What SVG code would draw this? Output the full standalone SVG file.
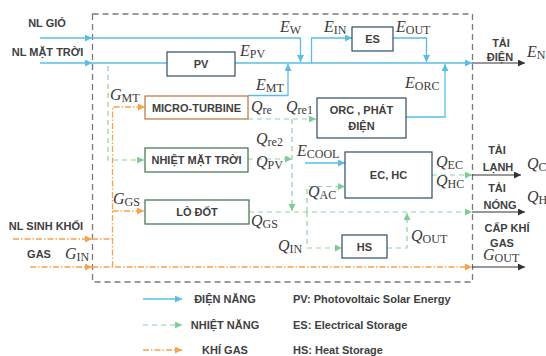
<svg xmlns="http://www.w3.org/2000/svg" width="546" height="356" viewBox="0 0 546 356">
<defs>
<style>
.t{font-family:"Liberation Sans",Arial,sans-serif;font-weight:bold;font-size:11px;fill:#404040;text-anchor:middle}
.tl{font-family:"Liberation Sans",Arial,sans-serif;font-weight:bold;font-size:11px;fill:#404040}
.m{font-family:"Liberation Serif","Times New Roman",serif;font-style:italic;font-size:16px;fill:#3a3a3a}
.s{font-style:normal;font-size:12px}
.box{fill:#fff;stroke:#2f4d66;stroke-width:1.2}
.gbox{fill:#fff;stroke:#3d6e4c;stroke-width:1.2}
.obox{fill:#fff;stroke:#b87440;stroke-width:1.2}
.e{fill:none;stroke:#5bbde6;stroke-width:1.3}
.h{fill:none;stroke:#8fd3a2;stroke-width:1.2;stroke-dasharray:5 4}
.g{fill:none;stroke:#f5a34c;stroke-width:1.3;stroke-dasharray:6 2 1.5 2}
.k{fill:none;stroke:#333;stroke-width:1.2}
</style>
<marker id="ab" viewBox="0 0 8 8" refX="8" refY="4" markerWidth="7" markerHeight="7" markerUnits="userSpaceOnUse" orient="auto"><path d="M0,0 L8,4 L0,8 Z" fill="#5bbde6"/></marker>
<marker id="ag" viewBox="0 0 8 8" refX="8" refY="4" markerWidth="7" markerHeight="7" markerUnits="userSpaceOnUse" orient="auto"><path d="M0,0 L8,4 L0,8 Z" fill="#7fcc95"/></marker>
<marker id="ao" viewBox="0 0 8 8" refX="8" refY="4" markerWidth="7" markerHeight="7" markerUnits="userSpaceOnUse" orient="auto"><path d="M0,0 L8,4 L0,8 Z" fill="#f5a34c"/></marker>
<marker id="ak" viewBox="0 0 8 8" refX="8" refY="4" markerWidth="7" markerHeight="7" markerUnits="userSpaceOnUse" orient="auto"><path d="M0,0 L8,4 L0,8 Z" fill="#333"/></marker>
</defs>
<rect width="546" height="356" fill="#fff"/>
<rect x="92.5" y="14" width="380" height="268" fill="none" stroke="#7a7a7a" stroke-width="1.3" stroke-dasharray="6 4"/>

<g id="connectors">
<path class="e" d="M40,38 H92" marker-end="url(#ab)"/>
<path class="e" d="M92,38 H300.5 V62" marker-end="url(#ab)"/>
<path class="e" d="M40,63 H92" marker-end="url(#ab)"/>
<path class="e" d="M92,63 H167"/>
<path class="e" d="M235,63 H472" marker-end="url(#ab)"/>
<path class="e" d="M311.5,63 V38 H352" marker-end="url(#ab)"/>
<path class="e" d="M393,38 H426.5 V62" marker-end="url(#ab)"/>
<path class="e" d="M406,117 H445 V64" marker-end="url(#ab)"/>
<path class="e" d="M248,95.5 H288 V64" marker-end="url(#ab)"/>
<path class="e" d="M305,163 H345" marker-end="url(#ab)"/>
<path class="h" d="M108,66 V160 H144" marker-end="url(#ag)"/>
<path class="h" d="M248,119 H316" marker-end="url(#ag)"/>
<path class="h" d="M292,119 V211" marker-end="url(#ag)"/>
<path class="h" d="M248,159 H292" marker-end="url(#ag)"/>
<path class="h" d="M249,212 H472" marker-end="url(#ag)"/>
<path class="h" d="M307,212 V186.5 H345" marker-end="url(#ag)"/>
<path class="h" d="M307,212 V248 H342" marker-end="url(#ag)"/>
<path class="h" d="M387,248 H407 V213" marker-end="url(#ag)"/>
<path class="h" d="M432,175 H472" marker-end="url(#ag)"/>
<path class="g" d="M13,239 H92" marker-end="url(#ao)"/>
<path class="g" d="M92,239 H112.5"/>
<path class="g" d="M30,267 H92" marker-end="url(#ao)"/>
<path class="g" d="M92,267 H472" marker-end="url(#ao)"/>
<path class="g" d="M112.5,267 V107 H145" marker-end="url(#ao)"/>
<path class="g" d="M112.5,211 H144" marker-end="url(#ao)"/>
<path class="k" d="M472,63 H525" marker-end="url(#ak)"/>
<path class="k" d="M472,175 H521" marker-end="url(#ak)"/>
<path class="k" d="M472,212 H525" marker-end="url(#ak)"/>
<path class="k" d="M472,267 H525" marker-end="url(#ak)"/>
</g>

<g id="pv"><rect class="box" x="167" y="52" width="68" height="24"/><text class="t" x="201" y="68">PV</text></g>
<g id="es"><rect class="box" x="352" y="27" width="41" height="24"/><text class="t" x="372.5" y="43">ES</text></g>
<g id="micro-turbine"><rect class="obox" x="145" y="96" width="103" height="23"/><text class="t" x="196.5" y="111.5">MICRO-TURBINE</text></g>
<g id="nhiet-mat-troi"><rect class="gbox" x="145" y="148" width="103" height="24"/><text class="t" x="196.5" y="164">NHIỆT MẶT TRỜI</text></g>
<g id="lo-dot"><rect class="gbox" x="145" y="200" width="104" height="24"/><text class="t" x="197" y="216">LÒ ĐỐT</text></g>
<g id="orc"><rect class="box" x="317" y="98" width="89" height="40"/><text class="t" x="361.5" y="114">ORC , PHÁT</text><text class="t" x="361.5" y="130">ĐIỆN</text></g>
<g id="ec-hc"><rect class="box" x="345" y="152" width="87" height="46"/><text class="t" x="388.5" y="179">EC, HC</text></g>
<g id="hs"><rect class="box" x="342" y="235" width="45" height="23"/><text class="t" x="364.5" y="250.5">HS</text></g>

<g id="inputs">
<text class="t" x="47" y="27">NL GIÓ</text>
<text class="t" x="47.5" y="56">NL MẶT TRỜI</text>
<text class="t" x="46" y="230">NL SINH KHỐI</text>
<text class="t" x="39" y="258">GAS</text>
</g>
<g id="outputs">
<text class="t" x="501" y="47">TẢI</text>
<text class="t" x="500" y="61">ĐIỆN</text>
<text class="t" x="497" y="154">TẢI</text>
<text class="t" x="498" y="171">LẠNH</text>
<text class="t" x="497" y="192">TẢI</text>
<text class="t" x="500" y="209">NÓNG</text>
<text class="t" x="507" y="232">CẤP KHÍ</text>
<text class="t" x="502" y="247">GAS</text>
</g>

<g id="labels">
<text class="m" x="240" y="56">E<tspan class="s" dy="2">PV</tspan></text>
<text class="m" x="280" y="32">E<tspan class="s" dy="2">W</tspan></text>
<text class="m" x="324" y="32">E<tspan class="s" dy="2">IN</tspan></text>
<text class="m" x="396" y="32">E<tspan class="s" dy="2">OUT</tspan></text>
<text class="m" x="527" y="57">E<tspan class="s" dy="2">N</tspan></text>
<text class="m" x="405" y="88">E<tspan class="s" dy="2">ORC</tspan></text>
<text class="m" x="256" y="90">E<tspan class="s" dy="2">MT</tspan></text>
<text class="m" x="110" y="100">G<tspan class="s" dy="2">MT</tspan></text>
<text class="m" x="251" y="112">Q<tspan class="s" dy="2">re</tspan></text>
<text class="m" x="286" y="112">Q<tspan class="s" dy="2">re1</tspan></text>
<text class="m" x="256" y="144">Q<tspan class="s" dy="2">re2</tspan></text>
<text class="m" x="256" y="167">Q<tspan class="s" dy="2">PV</tspan></text>
<text class="m" x="297" y="156">E<tspan class="s" dy="2">COOL</tspan></text>
<text class="m" x="436" y="167">Q<tspan class="s" dy="2">EC</tspan></text>
<text class="m" x="436" y="186">Q<tspan class="s" dy="2">HC</tspan></text>
<text class="m" x="527" y="169">Q<tspan class="s" dy="2">C</tspan></text>
<text class="m" x="527" y="202">Q<tspan class="s" dy="2">H</tspan></text>
<text class="m" x="308" y="197">Q<tspan class="s" dy="2">AC</tspan></text>
<text class="m" x="251" y="226">Q<tspan class="s" dy="2">GS</tspan></text>
<text class="m" x="113" y="204">G<tspan class="s" dy="2">GS</tspan></text>
<text class="m" x="278" y="251">Q<tspan class="s" dy="2">IN</tspan></text>
<text class="m" x="411" y="241">Q<tspan class="s" dy="2">OUT</tspan></text>
<text class="m" x="65" y="259">G<tspan class="s" dy="2">IN</tspan></text>
<text class="m" x="483" y="260">G<tspan class="s" dy="2">OUT</tspan></text>
</g>

<g id="legend">
<path class="e" d="M143,299 H182" marker-end="url(#ab)"/>
<path class="h" d="M143,325 H182" marker-end="url(#ag)"/>
<path class="g" d="M143,350 H182" marker-end="url(#ao)"/>
<text class="t" x="225" y="303">ĐIỆN NĂNG</text>
<text class="t" x="225" y="329">NHIỆT NĂNG</text>
<text class="t" x="225" y="354">KHÍ GAS</text>
<text class="tl" x="293" y="303">PV: Photovoltaic Solar Energy</text>
<text class="tl" x="293" y="329">ES: Electrical Storage</text>
<text class="tl" x="293" y="354">HS: Heat Storage</text>
</g>
</svg>
